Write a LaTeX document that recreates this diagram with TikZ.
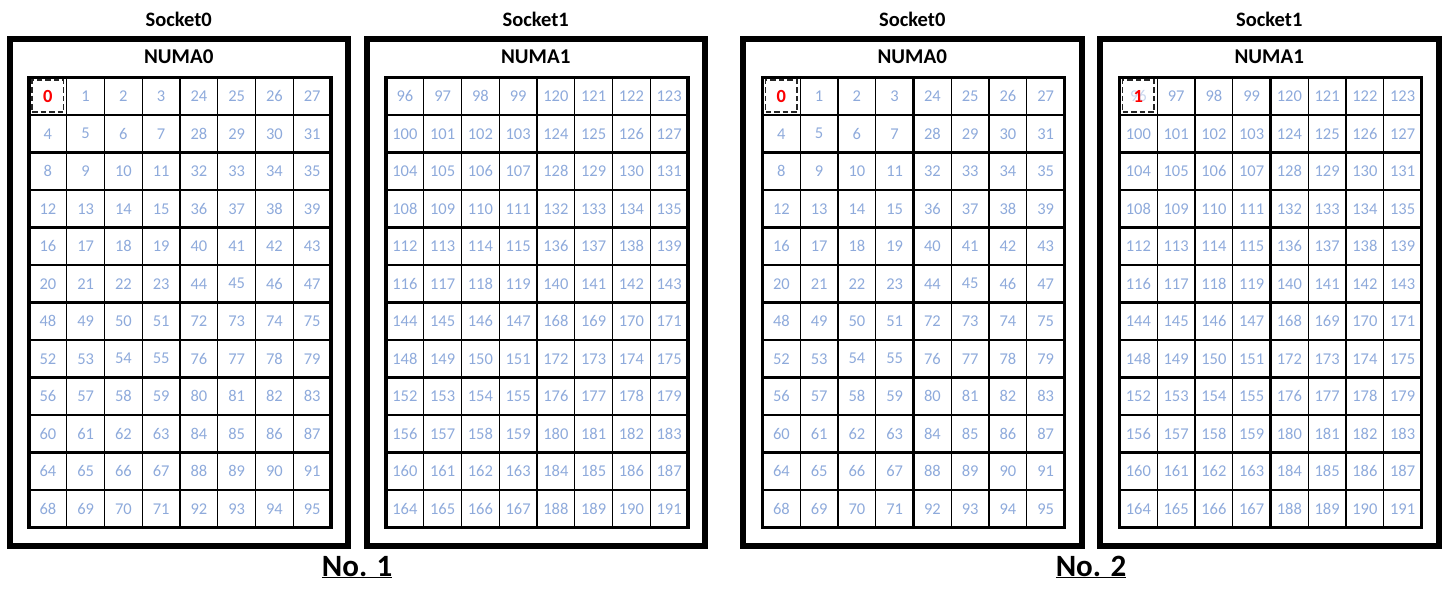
\documentclass[tikz,border=0pt]{standalone}
\usepackage{fontspec}
\setmainfont{Carlito}
\definecolor{numblue}{HTML}{8EAADB}
\definecolor{fadedblue}{HTML}{C9D6EE}
\definecolor{redtxt}{HTML}{FF0000}
\begin{document}
\begin{tikzpicture}[x=1pt,y=-1pt,
  sockbox/.style={draw, line width=6pt, inner sep=0pt, minimum width=338.5pt, minimum height=507pt},
  title/.style={font=\bfseries\fontsize{20.5}{22}\selectfont, anchor=base, inner sep=0pt},
  num/.style={text=numblue, font=\fontsize{16.5}{17}\selectfont, inner sep=0pt},
  rednum/.style={text=redtxt, font=\bfseries\fontsize{18.5}{19}\selectfont, inner sep=0pt},
  markbox/.style={draw=black!85, line width=1.6pt, dash pattern=on 5.5pt off 3pt, inner sep=0pt, minimum width=31.5pt, minimum height=32pt},
  thinline/.style={line width=1.3pt},
  thickline/.style={line width=2.7pt},
  outerline/.style={line width=3.8pt},
  nolabel/.style={font=\bfseries\fontsize{31}{33}\selectfont, anchor=base, inner sep=0pt}]
\useasboundingbox (0,0) rectangle (1450,601);
\foreach \bx/\sk [count=\i] in {9.5/0, 366.5/1, 743/0, 1100/1} {
  \pgfmathsetmacro\cx{\bx+169.25}
  \node[sockbox] (box\i) at (\cx,292.5) {};
  \node[title] (sock\i) at (\cx,27) {Socket\sk};
  \node[title, font=\bfseries\fontsize{21}{22}\selectfont] (numa\i) at (\cx,64) {NUMA\sk};
  \pgfmathsetmacro\gx{\bx+19.5}
  % cells
  \foreach \r in {0,...,11} {
    \foreach \c in {0,...,7} {
      \pgfmathtruncatemacro\v{\sk*96 + (\r>5)*48 + mod(\r,6)*4 + (\c>3)*20 + \c}
      \pgfmathsetmacro\px{\gx + 37.75*\c + 18.875}
      \pgfmathsetmacro\py{77.5 + 37.5*\r + 18.75}
      \ifnum\i=4 \ifnum\r=0 \ifnum\c=0
        \node[num, text=fadedblue] (cell\i-\r-\c) at (\px,\py) {\v};
      \else
        \node[num] (cell\i-\r-\c) at (\px,\py) {\v};
      \fi \else
        \node[num] (cell\i-\r-\c) at (\px,\py) {\v};
      \fi \else
        \node[num] (cell\i-\r-\c) at (\px,\py) {\v};
      \fi
    }
  }
  % grid lines
  \foreach \c in {1,2,3,5,6,7} {
    \draw[thinline] ({\gx+37.75*\c},77.5) -- ({\gx+37.75*\c},527.5);
  }
  \draw[thickline] ({\gx+37.75*4},77.5) -- ({\gx+37.75*4},527.5);
  \foreach \r in {1,3,5,7,9,11} {
    \draw[thinline] (\gx,{77.5+37.5*\r}) -- ({\gx+302},{77.5+37.5*\r});
  }
  \foreach \r in {2,4,6,8,10} {
    \draw[thickline] (\gx,{77.5+37.5*\r}) -- ({\gx+302},{77.5+37.5*\r});
  }
  \draw[outerline] (\gx,77.5) rectangle ({\gx+302},527.5);
}
% highlighted cores
\node[rednum] (red1) at (cell1-0-0) {0};
\node[markbox] (mark1) at (cell1-0-0) {};
\node[rednum] (red3) at (cell3-0-0) {0};
\node[markbox] (mark3) at (cell3-0-0) {};
\node[rednum] (red4) at (cell4-0-0) {1};
\node[markbox] (mark4) at (cell4-0-0) {};
% labels
\node[nolabel] (no1) at (357.2,576) {\underline{No. 1}};
\node[nolabel] (no2) at (1091,576) {\underline{No. 2}};
\end{tikzpicture}
\end{document}
